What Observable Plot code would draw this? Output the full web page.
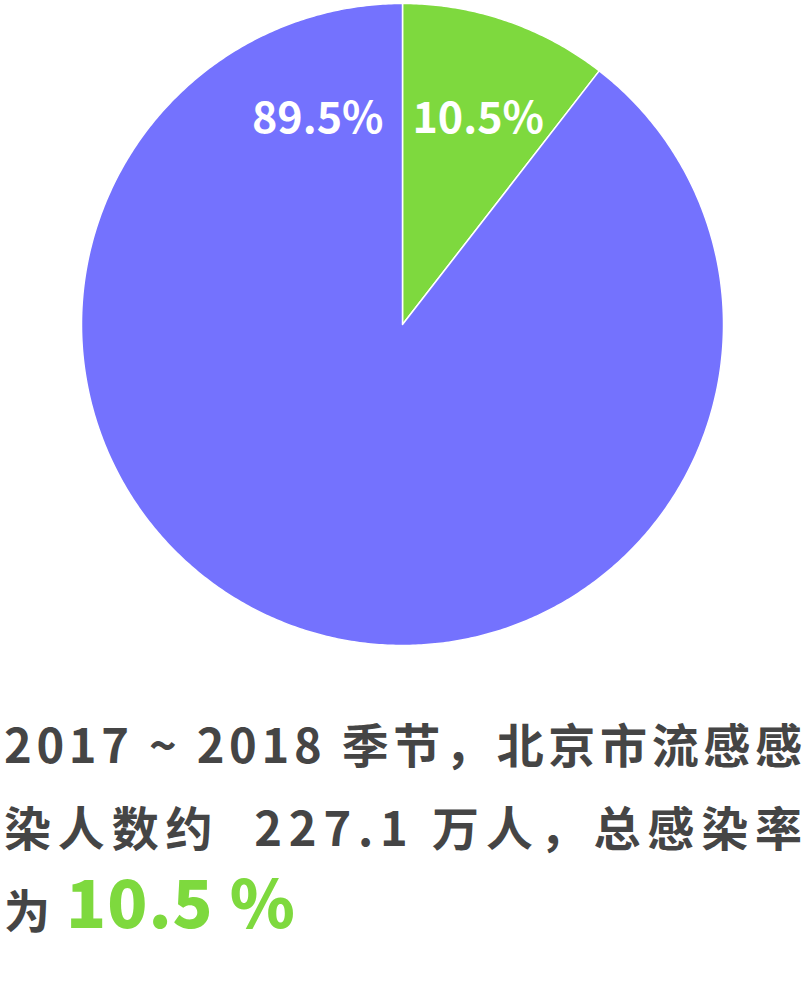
<!DOCTYPE html>
<html>
<head>
<meta charset="utf-8">
<script src="https://cdn.jsdelivr.net/npm/d3@7"></script>
<script src="https://cdn.jsdelivr.net/npm/@observablehq/plot@0.6"></script>
<style>
  html, body { margin: 0; padding: 0; background: #fff; }
  #wrap { width: 805px; }
  svg { display: block; }
</style>
</head>
<body>
<div id="wrap"></div>
<script>
// ---- data ----
const categories = ["感染", "未感染"];
const values = [10.5, 89.5];
const labels = ["10.5%", "89.5%"];
const colors = ["#7ed93e", "#7472fe"];
const captionLine1 = "2017 ~ 2018 季节，北京市流感感";
const captionLine2 = "染人数约  227.1 万人，总感染率";
const captionPrefix = "为";
const captionHighlight = "10.5 %";

// ---- geometry from data ----
const pie = d3.pie().sort(null).value(d => d.value);
const arcs = pie(categories.map((name, i) => ({name, value: values[i], label: labels[i], color: colors[i]})));

function slicePoints(a) {
  const pts = [{x: 0, y: 0}];
  const n = Math.max(2, Math.ceil((a.endAngle - a.startAngle) / (Math.PI / 360)));
  for (let k = 0; k <= n; k++) {
    const t = a.startAngle + (a.endAngle - a.startAngle) * k / n;
    pts.push({x: Math.sin(t), y: Math.cos(t)});
  }
  return pts;
}

const labelR = 0.639;
const font = "'Noto Sans CJK SC', 'Noto Sans', sans-serif";

const marks = [];
arcs.forEach(a => {
  marks.push(Plot.line(slicePoints(a), {
    x: "x", y: "y", fill: a.data.color, stroke: "white", strokeWidth: 1.5,
    curve: "linear-closed"
  }));
});
arcs.forEach((a, i) => {
  const first = i === 0;
  marks.push(Plot.text([{x: 0, y: labelR, text: a.data.label}], {
    x: "x", y: "y", text: "text",
    textAnchor: first ? "start" : "end",
    dx: first ? 10 : -19,
    fill: "white", fontSize: 43, fontWeight: "bold",
    fontFamily: font
  }));
});

const chart = Plot.plot({
  width: 805,
  height: 650,
  margin: 0,
  x: {domain: [-1, 1], range: [81, 723], axis: null},
  y: {domain: [-1, 1], range: [645, 3], axis: null},
  style: {fontFamily: font, background: "white"},
  marks
});
document.getElementById("wrap").appendChild(chart);

// ---- caption ----
const cap = d3.create("svg").attr("width", 805).attr("height", 350)
  .style("font-family", font);
cap.append("text").attr("x", 4).attr("y", 113)
  .attr("textLength", 798).attr("lengthAdjust", "spacing")
  .attr("font-size", 47).attr("font-weight", "bold").attr("fill", "#454545")
  .style("white-space", "pre")
  .text(captionLine1);
cap.append("text").attr("x", 4).attr("y", 196)
  .attr("textLength", 798).attr("lengthAdjust", "spacing")
  .attr("font-size", 47).attr("font-weight", "bold").attr("fill", "#454545")
  .style("white-space", "pre")
  .text(captionLine2);
cap.append("text").attr("x", 4).attr("y", 278)
  .attr("font-size", 46).attr("font-weight", "bold").attr("fill", "#454545")
  .text(captionPrefix);
cap.append("text").attr("x", 66).attr("y", 278)
  .attr("font-size", 66).attr("font-weight", 900)
  .attr("letter-spacing", 1).attr("fill", colors[0]).style("white-space", "pre")
  .text(captionHighlight);
document.getElementById("wrap").appendChild(cap.node());
</script>
</body>
</html>
